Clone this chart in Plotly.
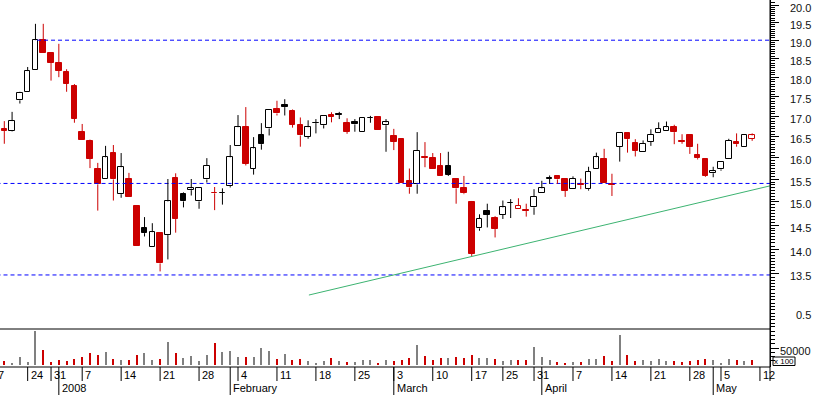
import math
import pandas as pd
import plotly.graph_objects as go

# ---------------- data ----------------
HOLIDAYS = ["2007-12-25", "2007-12-26", "2008-01-01", "2008-03-21", "2008-03-24", "2008-05-01"]
trading_days = [d for d in pd.bdate_range("2007-12-17", "2008-05-12")
                if d.strftime("%Y-%m-%d") not in HOLIDAYS]
FIRST_CANDLE = 2          # 2007-12-19
PREV_CLOSE = 16.80        # close before first visible candle

opens = [16.68, 16.63, 17.40, 17.61, 18.18, 19.00, 18.65, 18.38, 18.14, 17.77,
         16.61, 16.40, 15.75, 15.51, 16.11, 15.17, 15.51, 14.91, 14.44, 14.04,
         14.33, 14.29, 15.53, 15.18, 15.26, 15.01, 15.50, 15.20, 15.20, 15.35,
         16.27, 16.73, 15.75, 16.54, 16.70, 17.18, 17.29, 17.13, 16.79, 16.50,
         16.83, 16.78, 17.02, 17.04, 16.83, 16.85, 16.62, 16.96, 16.98, 16.78,
         16.52, 16.45, 15.47, 15.39, 16.02, 15.99, 15.81, 15.81, 15.51, 15.30,
         15.00, 14.43, 14.80, 14.65, 14.72, 14.98, 14.84, 14.82, 14.88, 15.19,
         15.52, 15.57, 15.51, 15.28, 15.39, 15.28, 15.75, 15.98, 15.39, 16.26,
         16.60, 16.34, 16.13, 16.38, 16.59, 16.64, 16.73, 16.40, 16.53, 16.06,
         15.98, 15.64, 15.73, 15.96, 16.37, 16.26, 16.45]
highs = [16.88, 17.11, 17.62, 18.27, 19.46, 19.46, 18.65, 18.90, 18.21, 17.82,
         16.81, 16.43, 15.88, 16.28, 16.30, 16.11, 15.65, 14.93, 14.67, 14.54,
         14.33, 15.51, 15.64, 15.21, 15.51, 15.31, 15.99, 15.33, 15.30, 16.30,
         17.03, 17.23, 16.49, 16.83, 17.17, 17.39, 17.43, 17.17, 16.97, 16.90,
         16.93, 17.00, 17.10, 17.11, 16.95, 16.93, 16.95, 17.01, 16.98, 16.93,
         16.69, 16.45, 15.75, 16.61, 16.37, 16.11, 16.11, 16.14, 15.51, 15.58,
         15.02, 14.73, 14.96, 14.69, 15.03, 15.06, 15.08, 14.96, 15.28, 15.47,
         15.59, 15.57, 15.51, 15.57, 15.52, 15.79, 16.12, 16.21, 15.63, 16.58,
         16.60, 16.44, 16.41, 16.68, 16.85, 16.87, 16.79, 16.56, 16.54, 16.33,
         15.98, 15.79, 15.89, 16.45, 16.58, 16.54, 16.58]
lows = [16.33, 16.62, 17.32, 17.61, 18.18, 18.66, 17.91, 18.00, 17.62, 16.84,
        16.41, 15.76, 14.81, 15.51, 15.03, 15.09, 15.11, 14.07, 14.26, 14.04,
        13.55, 13.79, 14.34, 14.88, 15.14, 14.85, 15.43, 14.82, 14.94, 15.32,
        16.27, 15.82, 15.61, 16.19, 16.53, 17.02, 17.02, 16.72, 16.26, 16.45,
        16.58, 16.70, 16.85, 16.93, 16.57, 16.62, 16.62, 16.84, 16.67, 16.14,
        16.18, 15.41, 15.18, 15.18, 15.78, 15.75, 15.58, 15.58, 14.96, 15.17,
        13.86, 14.38, 14.45, 14.24, 14.63, 14.65, 14.84, 14.68, 14.72, 15.19,
        15.40, 15.40, 15.11, 15.28, 15.28, 15.25, 15.75, 15.41, 15.13, 15.91,
        16.12, 16.03, 16.13, 16.28, 16.59, 16.64, 16.32, 16.33, 16.09, 15.96,
        15.56, 15.55, 15.70, 15.96, 16.26, 16.26, 16.40]
closes = [16.64, 16.88, 17.60, 18.16, 19.00, 18.66, 18.39, 18.17, 17.83, 16.94,
          16.41, 15.97, 15.39, 16.01, 15.50, 15.78, 15.11, 14.07, 14.33, 14.35,
          13.71, 15.01, 14.64, 15.01, 15.30, 15.31, 15.81, 15.19, 15.20, 16.01,
          16.73, 15.86, 16.22, 16.32, 17.16, 17.07, 17.23, 16.79, 16.53, 16.73,
          16.83, 17.00, 16.98, 17.04, 16.62, 16.80, 16.95, 16.96, 16.67, 16.85,
          16.38, 15.41, 15.32, 16.16, 16.00, 15.75, 15.58, 15.61, 15.30, 15.19,
          13.90, 14.64, 14.72, 14.42, 14.88, 14.98, 14.91, 14.80, 15.11, 15.30,
          15.52, 15.50, 15.25, 15.52, 15.37, 15.68, 16.01, 15.41, 15.37, 16.58,
          16.44, 16.17, 16.33, 16.54, 16.69, 16.73, 16.61, 16.38, 16.25, 15.99,
          15.58, 15.69, 15.89, 16.40, 16.32, 16.54, 16.53]
volumes = [11000, 6000, 23000, 9000, 100000, 44000, 9000, 14000, 11000, 17000,
           23000, 36000, 30000, 38000, 17000, 14000, 14000, 30000, 35000, 14000,
           17000, 68000, 35000, 19000, 26000, 11000, 29000, 65000, 37000, 41000,
           24000, 23000, 23000, 50000, 41000, 17000, 32000, 14000, 17000, 11000,
           5000, 12000, 20000, 11000, 8000, 8000, 14000, 14000, 6000, 14000,
           11000, 15000, 21000, 60000, 27000, 15000, 21000, 21000, 24000, 21000,
           30000, 21000, 21000, 18000, 12000, 15000, 15000, 15000, 54000, 24000,
           15000, 9000, 6000, 9000, 9000, 18000, 18000, 27000, 12000, 90000,
           30000, 12000, 13000, 12000, 18000, 12000, 12000, 9000, 12000, 15000,
           18000, 15000, 6000, 18000, 15000, 12000, 15000]   # x 100

level_prices = [19.0, 15.41, 13.48]
level_start_index = [6.2, 1.0, 1.0]
trend_index = [41.1, 100.4]
trend_price = [13.09, 15.36]

price_major = [13.5, 14.0, 14.5, 15.0, 15.5, 16.0, 16.5, 17.0, 17.5, 18.0, 18.5, 19.0, 19.5, 20.0]
price_minor = [12.5 + k * 0.0625 for k in range(0, 122)]
vol_label_value = 50000
vol_extra_label = ("0.5", 150000)
month_names = {1: "2008", 2: "February", 3: "March", 4: "April", 5: "May"}

# ---------------- geometry ----------------
W, H = 817, 395
ML, MR, MT, MB = 0, 47, 0, 28
PW, PH = W - ML - MR, H - MT - MB            # 770 x 367
XMIN, XMAX = 1.448, 100.29
P_LO, P_HI = 12.456, 20.15
V_LO, V_HI = -6900, 106900
VOL_TOP = (367 - 329) / PH                   # volume panel height fraction

RED = "#CC0000"
BLUE = "#0000FF"
GREEN = "#3CB371"
GRAY = "#808080"
FONT = "Liberation Sans, Arial, sans-serif"


def px(i):
    return (i - XMIN) / (XMAX - XMIN)


def py(ypix):
    return (PH - ypix) / PH


n = len(closes)
idx = list(range(FIRST_CANDLE, FIRST_CANDLE + n))
prev = [PREV_CLOSE] + closes[:-1]

fills, edges, wick_cols, vol_cols = [], [], [], []
bases, heights = [], []
for o, c, p in zip(opens, closes, prev):
    col = RED if c < p else "#000000"
    edges.append(col)
    fills.append(col if c <= o else "#FFFFFF")
    wick_cols.append(col)
    vol_cols.append(RED if c < p else GRAY)
    bases.append(min(o, c))
    heights.append(max(abs(c - o), 0.006))

wick = {RED: ([], []), "#000000": ([], [])}
for i, o, h, l, c, col in zip(idx, opens, highs, lows, closes, wick_cols):
    xs, ys = wick[col]
    top, bot = max(o, c), min(o, c)
    if h > top:
        xs += [i, i, None]
        ys += [h, top, None]
    if l < bot:
        xs += [i, i, None]
        ys += [bot, l, None]

fig = go.Figure()

# reference levels
for lp, ls in zip(level_prices, level_start_index):
    fig.add_trace(go.Scatter(x=[ls, XMAX + 1], y=[lp, lp], mode="lines",
                             line=dict(color=BLUE, width=1, dash="4px,3px"),
                             xaxis="x", yaxis="y", hoverinfo="skip"))
fig.add_trace(go.Scatter(x=trend_index, y=trend_price, mode="lines",
                         line=dict(color=GREEN, width=1), xaxis="x", yaxis="y",
                         hoverinfo="skip"))

for col, (xs, ys) in wick.items():
    fig.add_trace(go.Scatter(x=xs, y=ys, mode="lines", line=dict(color=col, width=1),
                             xaxis="x", yaxis="y", hoverinfo="skip", connectgaps=False))

fig.add_trace(go.Bar(x=idx, y=heights, base=bases, width=0.72,
                     marker=dict(color=fills, line=dict(color=edges, width=1)),
                     xaxis="x", yaxis="y", hoverinfo="skip"))

fig.add_trace(go.Bar(x=idx, y=volumes, width=0.14,
                     marker=dict(color=vol_cols, line=dict(width=0)),
                     xaxis="x", yaxis="y2", hoverinfo="skip"))

shapes = []
annotations = []

# panel borders
shapes.append(dict(type="line", xref="paper", yref="paper", x0=0, x1=1, y0=VOL_TOP, y1=VOL_TOP,
                   line=dict(color="black", width=1)))
shapes.append(dict(type="line", xref="paper", yref="paper", x0=0, x1=1, y0=0, y1=0,
                   line=dict(color="black", width=1)))
shapes.append(dict(type="line", xref="paper", yref="paper", x0=1, x1=1, y0=py(381), y1=1,
                   line=dict(color="black", width=1)))

# date axis
prev_week = None
prev_month = None
for k, d in enumerate(trading_days):
    wk = d.isocalendar()[1]
    if wk != prev_week:
        shapes.append(dict(type="line", xref="paper", yref="paper", x0=px(k), x1=px(k),
                           y0=py(367), y1=py(381), line=dict(color="black", width=1)))
        annotations.append(dict(text=str(d.day), xref="paper", yref="paper", x=px(k), y=py(374.5),
                                xanchor="left", yanchor="middle", xshift=1, showarrow=False,
                                font=dict(family=FONT, size=11, color="black")))
    prev_week = wk
    if prev_month is not None and d.month != prev_month:
        shapes.append(dict(type="line", xref="paper", yref="paper", x0=px(k), x1=px(k),
                           y0=py(367), y1=py(395), line=dict(color="black", width=1)))
        annotations.append(dict(text=month_names[d.month], xref="paper", yref="paper", x=px(k),
                                y=py(388.5), xanchor="left", yanchor="middle", xshift=1,
                                showarrow=False, font=dict(family=FONT, size=11, color="black")))
    prev_month = d.month

# price labels
LABEL_X = 813 / PW
for v in price_major:
    annotations.append(dict(text=f"{v:.1f}", xref="paper", yref="y", x=LABEL_X, y=math.log10(v),
                            xanchor="right", yanchor="middle", yshift=-2.5, showarrow=False,
                            font=dict(family=FONT, size=11, color="#111")))
annotations.append(dict(text=f"{vol_label_value}", xref="paper", yref="y2", x=LABEL_X,
                        y=vol_label_value, xanchor="right", yanchor="middle", yshift=-2.5,
                        showarrow=False, font=dict(family=FONT, size=11, color="#111")))
annotations.append(dict(text=vol_extra_label[0], xref="paper", yref="paper", x=LABEL_X,
                        y=VOL_TOP * (vol_extra_label[1] - V_LO) / (V_HI - V_LO),
                        xanchor="right", yanchor="middle", showarrow=False,
                        font=dict(family=FONT, size=11, color="#111")))
# "x 100" box
shapes.append(dict(type="rect", xref="paper", yref="paper", x0=773 / PW, x1=795 / PW,
                   y0=py(365.5), y1=py(357), line=dict(color="black", width=1)))
annotations.append(dict(text="x 100", xref="paper", yref="paper", x=784 / PW, y=py(361.3),
                        xanchor="center", yanchor="middle", showarrow=False,
                        font=dict(family=FONT, size=8, color="black")))

fig.update_layout(
    width=W, height=H,
    margin=dict(l=ML, r=MR, t=MT, b=MB, pad=0),
    paper_bgcolor="white", plot_bgcolor="white",
    showlegend=False, bargap=0,
    xaxis=dict(range=[XMIN, XMAX], visible=False, anchor="y2"),
    yaxis=dict(type="log", range=[math.log10(P_LO), math.log10(P_HI)], domain=[VOL_TOP, 1],
               anchor="x", side="right", showgrid=False, zeroline=False,
               showline=True, linecolor="black", linewidth=1,
               ticks="outside", ticklen=8, tickwidth=1, tickcolor="black",
               tickvals=price_major, showticklabels=False,
               minor=dict(tickvals=price_minor, ticks="outside", ticklen=4, tickcolor="black",
                          tickwidth=1, showgrid=False)),
    yaxis2=dict(range=[V_LO, V_HI], domain=[0, VOL_TOP], anchor="x", side="right",
                showgrid=False, zeroline=False, showline=True, linecolor="black", linewidth=1,
                ticks="outside", ticklen=8, tickwidth=1, tickcolor="black",
                tickvals=[vol_label_value], showticklabels=False,
                minor=dict(tickvals=[12500, 25000, 37500, 62500, 75000, 87500, 100000],
                           ticks="outside", ticklen=4, tickcolor="black", tickwidth=1,
                           showgrid=False)),
    shapes=shapes,
    annotations=annotations,
)

fig.write_html("out.html", config={"displayModeBar": False},
               post_script="document.body.style.margin='0';document.body.style.padding='0';")
